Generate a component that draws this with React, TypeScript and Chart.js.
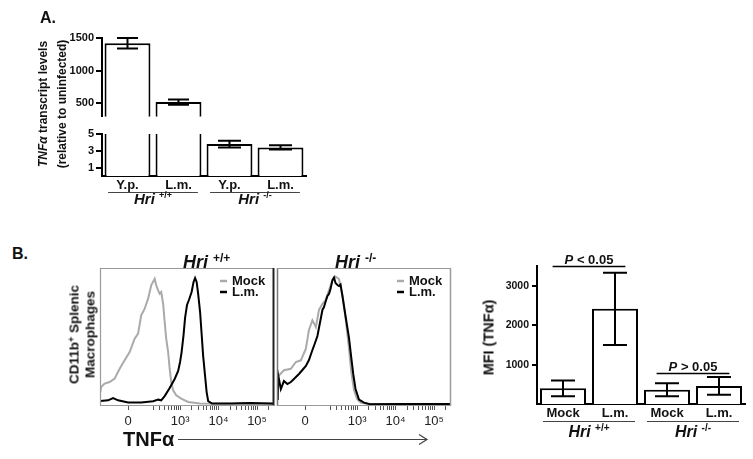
import React, { useEffect, useRef } from "react";
import { Chart, registerables } from "chart.js";

Chart.register(...registerables);

const FONT = "'Liberation Sans', Arial, Helvetica, sans-serif";
Chart.defaults.font.family = FONT;

// ---------------- Panel A (qPCR, broken axis) ----------------
const aCategories = ["Y.p.", "L.m.", "Y.p.", "L.m."];
const aValues = [1420, 520, 3.8, 3.4];
const aErrors = [80, 40, 0.4, 0.25];
const aGroupNames = ["Hri", "Hri"];
const aGroupSups = ["+/+", "-/-"];
const aGroupRanges = [[0, 1], [2, 3]];
const aUpperMin = 300;
const aUpperMax = 1500;
const aUpperTicks = [500, 1000, 1500];
const aLowerMax = 5;
const aLowerTicks = [1, 3, 5];

// ---------------- Panel B histograms (x: decades, y: % of max) ----------------
const hMin = 0.92;
const hMax = 5.44;
const hTickValues = [1.65, 3, 4, 5];
const hTickLabels = ["0", "10³", "10⁴", "10⁵"];
const hMinorDecades = [2, 3, 4, 5];
const hSeriesNames = ["Mock", "L.m."];

const hWtMock = [
  [0.93, 10.1], [0.95, 13.8], [1.04, 16.2], [1.17, 17.4], [1.3, 19.8], [1.43, 27.0],
  [1.56, 33.1], [1.69, 39.1], [1.82, 48.8], [1.91, 52.4], [1.99, 65.7], [2.08, 70.5],
  [2.17, 77.8], [2.25, 87.5], [2.34, 92.2], [2.38, 87.5], [2.43, 83.8], [2.47, 81.4],
  [2.51, 82.6], [2.56, 74.1], [2.6, 60.9], [2.64, 48.8], [2.69, 39.1], [2.73, 27.0],
  [2.77, 17.4], [2.82, 11.4], [2.9, 7.8], [3.03, 5.3], [3.21, 2.9], [3.52, 1.8], [5.44, 1.4],
];
const hWtLm = [
  [0.93, 3.6], [1.13, 4.1], [1.26, 5.8], [1.39, 4.1], [1.65, 2.5], [1.99, 2.5],
  [2.3, 3.4], [2.43, 4.6], [2.51, 4.1], [2.6, 7.2], [2.73, 13.0], [2.86, 19.6],
  [2.95, 25.4], [3.0, 31.9], [3.04, 39.1], [3.09, 51.4], [3.13, 63.8], [3.18, 73.2],
  [3.23, 76.8], [3.3, 82.6], [3.35, 89.9], [3.39, 92.8], [3.43, 89.9], [3.47, 81.2],
  [3.52, 68.1], [3.56, 52.2], [3.6, 36.2], [3.65, 21.7], [3.69, 10.1], [3.73, 3.6],
  [3.83, 1.8], [4.3, 1.8], [4.82, 2.2], [5.43, 1.8],
];
const hKoMock = [
  [0.94, 21.7], [0.97, 22.2], [1.1, 25.9], [1.28, 27.0], [1.41, 31.9], [1.54, 33.1],
  [1.67, 41.5], [1.75, 55.1], [1.84, 62.1], [1.93, 57.2], [2.01, 69.6], [2.1, 74.1],
  [2.18, 76.6], [2.27, 83.8], [2.36, 91.1], [2.44, 93.8], [2.53, 92.0], [2.62, 80.4],
  [2.7, 63.8], [2.78, 44.2], [2.85, 24.6], [2.92, 11.6], [3.0, 5.1], [3.1, 2.4],
  [3.27, 1.7], [5.43, 1.4],
];
const hKoLm = [
  [0.94, 4.3], [0.95, 22.5], [1.02, 12.3], [1.1, 18.1], [1.19, 15.9], [1.28, 17.4],
  [1.36, 19.6], [1.49, 23.2], [1.58, 26.1], [1.67, 29.0], [1.75, 33.3], [1.84, 40.6],
  [1.88, 43.5], [1.97, 50.7], [2.06, 63.8], [2.1, 69.6], [2.14, 71.7], [2.18, 75.4],
  [2.23, 79.7], [2.27, 81.2], [2.31, 84.8], [2.36, 91.3], [2.4, 93.1], [2.44, 89.1],
  [2.49, 87.7], [2.53, 87.0], [2.57, 88.0], [2.62, 79.7], [2.7, 65.2], [2.79, 49.3],
  [2.85, 34.8], [2.9, 23.2], [2.96, 12.3], [3.05, 4.7], [3.18, 2.4], [3.34, 1.3],
  [4.11, 1.4], [5.43, 1.4],
];

// ---------------- Panel B bars (MFI) ----------------
const bCategories = ["Mock", "L.m.", "Mock", "L.m."];
const bValues = [400, 2420, 360, 460];
const bErrors = [200, 920, 165, 225];
const bTicks = [1000, 2000, 3000];
const bMax = 3500;
const bGroupNames = ["Hri", "Hri"];
const bGroupSups = ["+/+", "-/-"];
const bGroupRanges = [[0, 1], [2, 3]];
const pLabels = ["P < 0.05", "P > 0.05"];
const pLevels = [3500, 800];
const pPairs = [[0, 1], [2, 3]];

// ---------------- helpers / plugins ----------------
function drawHri(ctx: any, cx: number, baseline: number, name: string, sup: string, size: number) {
  const mainFont = `italic bold ${size}px ${FONT}`;
  const supSize = Math.round(size * 0.62);
  const supFont = `bold ${supSize}px ${FONT}`;
  ctx.font = mainFont;
  const w1 = ctx.measureText(name + " ").width;
  ctx.font = supFont;
  const w2 = ctx.measureText(sup).width;
  const x0 = cx - (w1 + w2) / 2;
  ctx.textAlign = "left";
  ctx.textBaseline = "alphabetic";
  ctx.font = mainFont;
  ctx.fillText(name, x0, baseline);
  ctx.font = supFont;
  ctx.fillText(sup, x0 + w1, baseline - size * 0.38);
}

const errorBarPlugin = {
  id: "errorBars",
  afterDatasetsDraw(chart: any, _a: any, opts: any) {
    if (!opts || !opts.errors) return;
    const ctx = chart.ctx;
    const ys = chart.scales.y;
    const meta = chart.getDatasetMeta(0);
    const data = chart.data.datasets[0].data;
    ctx.save();
    ctx.strokeStyle = "#000";
    ctx.lineWidth = 2;
    meta.data.forEach((bar: any, i: number) => {
      const v = data[i];
      const e = opts.errors[i];
      if (v == null || e == null) return;
      const x = bar.x;
      const yt = ys.getPixelForValue(v + e);
      const yb = ys.getPixelForValue(v - e);
      const hw = opts.capWidth / 2;
      ctx.beginPath();
      ctx.moveTo(x, yt);
      ctx.lineTo(x, yb);
      ctx.moveTo(x - hw, yt);
      ctx.lineTo(x + hw, yt);
      ctx.moveTo(x - hw, yb);
      ctx.lineTo(x + hw, yb);
      ctx.stroke();
    });
    ctx.restore();
  },
};

const groupLabelPlugin = {
  id: "groupLabels",
  afterDraw(chart: any, _a: any, opts: any) {
    if (!opts || !opts.ranges) return;
    const ctx = chart.ctx;
    const xs = chart.scales.x;
    const b = chart.chartArea.bottom;
    const step = xs.getPixelForValue(1) - xs.getPixelForValue(0);
    ctx.save();
    opts.ranges.forEach((r: number[], i: number) => {
      const x0 = xs.getPixelForValue(r[0]) - step * opts.extent;
      const x1 = xs.getPixelForValue(r[1]) + step * opts.extent;
      const y = Math.round(b + opts.lineOffset) + 0.5;
      ctx.strokeStyle = "#444";
      ctx.lineWidth = 1;
      ctx.beginPath();
      ctx.moveTo(x0, y);
      ctx.lineTo(x1, y);
      ctx.stroke();
      ctx.fillStyle = "#111";
      drawHri(ctx, (x0 + x1) / 2, b + opts.textOffset, opts.names[i], opts.sups[i], opts.size);
    });
    ctx.restore();
  },
};

const pValuePlugin = {
  id: "pValues",
  afterDraw(chart: any, _a: any, opts: any) {
    if (!opts || !opts.labels) return;
    const ctx = chart.ctx;
    const xs = chart.scales.x;
    const ys = chart.scales.y;
    const step = xs.getPixelForValue(1) - xs.getPixelForValue(0);
    ctx.save();
    opts.labels.forEach((lab: string, i: number) => {
      const pair = opts.pairs[i];
      const x0 = xs.getPixelForValue(pair[0]) - step * 0.2;
      const x1 = xs.getPixelForValue(pair[1]) + step * 0.2;
      const y = Math.round(ys.getPixelForValue(opts.levels[i])) + 0.5;
      ctx.strokeStyle = "#000";
      ctx.lineWidth = 1.5;
      ctx.beginPath();
      ctx.moveTo(x0, y);
      ctx.lineTo(x1, y);
      ctx.stroke();
      const first = lab.slice(0, 1);
      const rest = lab.slice(1);
      const fi = `italic bold 13px ${FONT}`;
      const fb = `bold 13px ${FONT}`;
      ctx.font = fi;
      const w1 = ctx.measureText(first).width;
      ctx.font = fb;
      const w2 = ctx.measureText(rest).width;
      const sx = (x0 + x1) / 2 - (w1 + w2) / 2;
      ctx.fillStyle = "#111";
      ctx.textAlign = "left";
      ctx.textBaseline = "alphabetic";
      ctx.font = fi;
      ctx.fillText(first, sx, y - 2.5);
      ctx.font = fb;
      ctx.fillText(rest, sx + w1, y - 2.5);
    });
    ctx.restore();
  },
};

const boxLegendPlugin = {
  id: "boxLegend",
  afterDraw(chart: any, _a: any, opts: any) {
    if (!opts || !opts.sides) return;
    const { left, right, top, bottom } = chart.chartArea;
    const ctx = chart.ctx;
    ctx.save();
    const s = opts.sides;
    const seg = (x0: number, y0: number, x1: number, y1: number, c: string, w: number) => {
      ctx.strokeStyle = c;
      ctx.lineWidth = w;
      ctx.beginPath();
      ctx.moveTo(x0, y0);
      ctx.lineTo(x1, y1);
      ctx.stroke();
    };
    seg(left + 0.5, top, left + 0.5, bottom, s[0][0], s[0][1]);
    seg(left, top + 0.5, right, top + 0.5, s[1][0], s[1][1]);
    seg(right - 0.5, top, right - 0.5, bottom, s[2][0], s[2][1]);
    seg(left, bottom - 0.5, right, bottom - 0.5, s[3][0], s[3][1]);
    ctx.font = `bold 13px ${FONT}`;
    ctx.textBaseline = "middle";
    ctx.textAlign = "left";
    chart.data.datasets.forEach((ds: any, i: number) => {
      const y = top + opts.legendTop + i * opts.legendGap;
      ctx.strokeStyle = ds.borderColor;
      ctx.lineWidth = 2.5;
      ctx.beginPath();
      ctx.moveTo(right - 54, y);
      ctx.lineTo(right - 47, y);
      ctx.stroke();
      ctx.fillStyle = "#111";
      ctx.fillText(ds.label, right - 42, y + 0.5);
    });
    ctx.restore();
  },
};

const fixW = (w: number) => (scale: any) => {
  scale.width = w;
};
const fixH = (h: number) => (scale: any) => {
  scale.height = h;
};
const setTicks = (vals: number[]) => (scale: any) => {
  scale.ticks = vals.map((v) => ({ value: v }));
};

const boldTick = (size: number) => ({ family: FONT, size, weight: "bold" as const });

const yAxisBase = (min: number, max: number, ticks: number[], width: number, fontSize: number, tickLen: number, pad: number) => ({
  min,
  max,
  afterBuildTicks: setTicks(ticks),
  afterFit: fixW(width),
  border: { display: true, color: "#000", width: 2 },
  grid: { display: true, drawOnChartArea: false, drawTicks: true, tickLength: tickLen, color: "#000", lineWidth: 2 },
  ticks: {
    font: boldTick(fontSize),
    color: "#111",
    padding: pad,
    callback: (v: number) => String(v),
  },
});

const baseOpts = (padding: any) => ({
  responsive: false,
  animation: false as const,
  devicePixelRatio: 1,
  events: [] as any[],
  layout: { padding, autoPadding: false },
});

// ---------------- configs ----------------
function configATop(): any {
  return {
    type: "bar",
    data: {
      labels: aCategories,
      datasets: [
        {
          data: aValues.map((v) => (v > aLowerMax ? v : null)),
          backgroundColor: "#fff",
          borderColor: "#000",
          borderWidth: 2,
          borderSkipped: "start",
          barPercentage: 0.9,
          categoryPercentage: 1,
        },
      ],
    },
    options: {
      ...baseOpts({ top: 38, right: 14, left: 0, bottom: 6.6 }),
      plugins: {
        legend: { display: false },
        tooltip: { enabled: false },
        errorBars: { errors: aValues.map((v, i) => (v > aLowerMax ? aErrors[i] : null)), capWidth: 21 },
      },
      scales: {
        x: { display: false },
        y: yAxisBase(aUpperMin, aUpperMax, aUpperTicks, 102, 11, 6, 2),
      },
    },
    plugins: [errorBarPlugin],
  };
}

function configABottom(): any {
  return {
    type: "bar",
    data: {
      labels: aCategories,
      datasets: [
        {
          data: aValues.map((v) => Math.min(v, aLowerMax)),
          backgroundColor: "#fff",
          borderColor: "#000",
          borderWidth: (ctx: any) =>
            aValues[ctx.dataIndex] > aLowerMax ? { left: 2, right: 2, top: 0, bottom: 0 } : 2,
          borderSkipped: "start",
          barPercentage: 0.9,
          categoryPercentage: 1,
        },
      ],
    },
    options: {
      ...baseOpts({ top: 9, right: 14, left: 0, bottom: 0 }),
      plugins: {
        legend: { display: false },
        tooltip: { enabled: false },
        errorBars: { errors: aValues.map((v, i) => (v > aLowerMax ? null : aErrors[i])), capWidth: 23 },
        groupLabels: {
          ranges: aGroupRanges,
          names: aGroupNames,
          sups: aGroupSups,
          extent: 0.38,
          lineOffset: 16,
          textOffset: 28,
          size: 15,
        },
      },
      scales: {
        x: {
          afterFit: fixH(34),
          border: { display: true, color: "#000", width: 2 },
          grid: { display: false, drawTicks: false },
          ticks: { font: boldTick(13), color: "#111", padding: 2 },
        },
        y: yAxisBase(0, aLowerMax, aLowerTicks, 102, 11, 6, 2),
      },
    },
    plugins: [errorBarPlugin, groupLabelPlugin],
  };
}

function histTickValues(): number[] {
  const minor: number[] = [];
  hMinorDecades.forEach((d) => {
    for (let k = 2; k <= 9; k++) {
      const v = d + Math.log10(k);
      if (v > hMin && v < hMax) minor.push(v);
    }
  });
  return [...hTickValues, ...minor].sort((a, b) => a - b);
}

const toXY = (arr: number[][]) => arr.map((p) => ({ x: p[0], y: p[1] }));

function configHist(mock: number[][], lm: number[][], padding: any, sides: any[]): any {
  return {
    type: "line",
    data: {
      datasets: [
        {
          label: hSeriesNames[0],
          data: toXY(mock),
          borderColor: "#aaaaaa",
          borderWidth: 2,
          pointRadius: 0,
          tension: 0,
          fill: false,
          order: 1,
        },
        {
          label: hSeriesNames[1],
          data: toXY(lm),
          borderColor: "#000",
          borderWidth: 2,
          pointRadius: 0,
          tension: 0,
          fill: false,
          order: 0,
        },
      ],
    },
    options: {
      ...baseOpts(padding),
      plugins: {
        legend: { display: false },
        tooltip: { enabled: false },
        boxLegend: { sides, legendTop: 13, legendGap: 11 },
      },
      scales: {
        x: {
          type: "linear",
          min: hMin,
          max: hMax,
          afterBuildTicks: setTicks(histTickValues()),
          afterFit: fixH(34),
          border: { display: false },
          grid: { display: true, drawOnChartArea: false, drawTicks: true, tickLength: 4, color: "#555", lineWidth: 1 },
          ticks: {
            autoSkip: false,
            maxRotation: 0,
            minRotation: 0,
            padding: 4,
            color: "#222",
            font: { family: FONT, size: 13 },
            callback: (value: number) => {
              const i = hTickValues.findIndex((t) => Math.abs(t - value) < 1e-6);
              return i >= 0 ? hTickLabels[i] : "";
            },
          },
        },
        y: { display: false, min: 0, max: 100 },
      },
    },
    plugins: [boxLegendPlugin],
  };
}

function configBBars(): any {
  return {
    type: "bar",
    data: {
      labels: bCategories,
      datasets: [
        {
          data: bValues,
          backgroundColor: "#fff",
          borderColor: "#000",
          borderWidth: 2,
          borderSkipped: "start",
          barPercentage: 0.885,
          categoryPercentage: 1,
        },
      ],
    },
    options: {
      ...baseOpts({ top: 26.4, right: 8, left: 0, bottom: 0 }),
      plugins: {
        legend: { display: false },
        tooltip: { enabled: false },
        errorBars: { errors: bErrors, capWidth: 24 },
        groupLabels: {
          ranges: bGroupRanges,
          names: bGroupNames,
          sups: bGroupSups,
          extent: 0.385,
          lineOffset: 17,
          textOffset: 33,
          size: 16,
        },
        pValues: { labels: pLabels, levels: pLevels, pairs: pPairs },
      },
      scales: {
        x: {
          afterFit: fixH(55),
          border: { display: true, color: "#000", width: 2 },
          grid: { display: false, drawTicks: false },
          ticks: { font: boldTick(13), color: "#111", padding: 2 },
        },
        y: yAxisBase(0, bMax, bTicks, 67, 10.5, 5, 3),
      },
    },
    plugins: [errorBarPlugin, groupLabelPlugin, pValuePlugin],
  };
}

// ---------------- components ----------------
function ChartCanvas({ left, top, width, height, make }: any) {
  const ref = useRef<HTMLCanvasElement>(null);
  useEffect(() => {
    const chart = new Chart(ref.current as HTMLCanvasElement, make());
    return () => chart.destroy();
  }, []);
  return (
    <canvas
      ref={ref}
      width={width}
      height={height}
      style={{ position: "absolute", left, top, width, height }}
    />
  );
}

const txt = (left: number, baseline: number, size: number, extra: any = {}) => ({
  position: "absolute" as const,
  left,
  top: baseline - 0.8465 * size,
  fontSize: size,
  lineHeight: `${size}px`,
  fontWeight: "bold" as const,
  whiteSpace: "nowrap" as const,
  ...extra,
});

const rotated = (cx: number, cy: number, w: number, h: number, size: number, lh: number) => ({
  position: "absolute" as const,
  left: cx - w / 2,
  top: cy - h / 2,
  width: w,
  height: h,
  fontSize: size,
  lineHeight: `${lh}px`,
  fontWeight: "bold" as const,
  textAlign: "center" as const,
  whiteSpace: "nowrap" as const,
  transform: "rotate(-90deg)",
  transformOrigin: "50% 50%",
});

const sup = (size: number, raise: number) => ({
  fontSize: size,
  position: "relative" as const,
  top: -raise,
  fontStyle: "normal" as const,
});

export default function App() {
  const wtSides = [["#9a9a9a", 1.2], ["#9a9a9a", 1.2], ["#222", 2], ["#9a9a9a", 1.2]];
  const koSides = [["#777", 1.5], ["#9a9a9a", 1.2], ["#9a9a9a", 1.5], ["#9a9a9a", 1.2]];
  return (
    <div
      style={{
        position: "absolute",
        left: 0,
        top: 0,
        width: 753,
        height: 459,
        background: "#fff",
        overflow: "hidden",
        fontFamily: FONT,
        color: "#111",
      }}
    >
      <ChartCanvas left={0} top={0} width={320} height={125} make={configATop} />
      <ChartCanvas left={0} top={125} width={320} height={85} make={configABottom} />
      <ChartCanvas
        left={90}
        top={240}
        width={186}
        height={200}
        make={() => configHist(hWtMock, hWtLm, { left: 10, right: 2, top: 28, bottom: 0 }, wtSides)}
      />
      <ChartCanvas
        left={276}
        top={240}
        width={182}
        height={200}
        make={() => configHist(hKoMock, hKoLm, { left: 1, right: 7, top: 28, bottom: 0 }, koSides)}
      />
      <ChartCanvas left={470} top={240} width={283} height={219} make={configBBars} />

      <div style={txt(40, 24, 16)}>A.</div>
      <div style={txt(12, 260, 16)}>B.</div>

      <div style={rotated(52.5, 104, 170, 38, 12, 19)}>
        <div>
          <i>TNFα</i> transcript levels
        </div>
        <div>(relative to uninfected)</div>
      </div>

      <div style={rotated(82, 334, 130, 29, 13.5, 14.5)}>
        <div>
          CD11b<span style={sup(9, 4)}>+</span> Splenic
        </div>
        <div>Macrophages</div>
      </div>

      <div style={rotated(489, 337, 110, 17, 14.5, 17)}>MFI (TNFα)</div>

      <div style={txt(183, 268, 18, { fontStyle: "italic" })}>
        Hri <span style={sup(12, 6)}>+/+</span>
      </div>
      <div style={txt(335, 268, 18, { fontStyle: "italic" })}>
        Hri <span style={sup(12, 6)}>-/-</span>
      </div>

      <div style={txt(123, 446, 20)}>TNFα</div>
      <svg
        width={256}
        height={14}
        style={{ position: "absolute", left: 175, top: 432 }}
      >
        <line x1={3} y1={7.5} x2={252} y2={7.5} stroke="#444" strokeWidth={1} />
        <polyline points="244,2.5 252,7.5 244,12.5" fill="none" stroke="#444" strokeWidth={1.2} />
      </svg>
    </div>
  );
}
